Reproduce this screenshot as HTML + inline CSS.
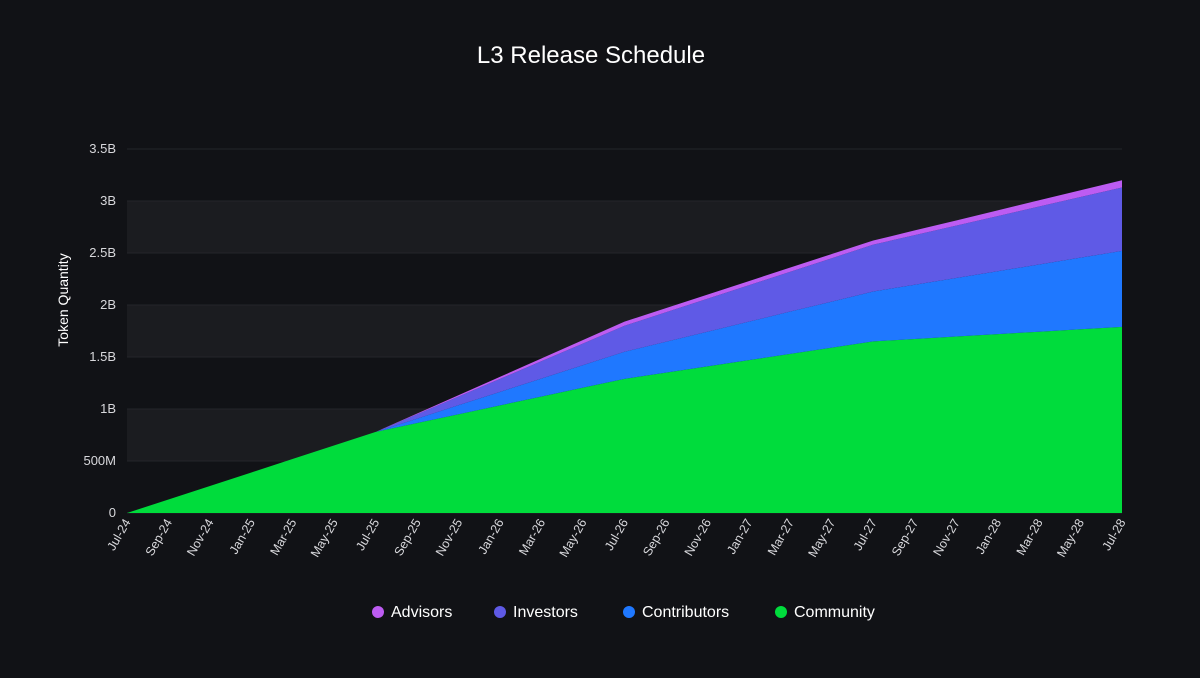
<!DOCTYPE html>
<html><head><meta charset="utf-8"><style>
body{margin:0;background:#111216;width:1200px;height:673px;overflow:hidden;font-family:"Liberation Sans",sans-serif}
</style></head><body>
<svg id="chart" width="1200" height="673">
<text x="591" y="63" fill="#fff" font-size="24" text-anchor="middle">L3 Release Schedule</text>
<text transform="translate(68,300) rotate(-90)" fill="#fff" font-size="14" text-anchor="middle">Token Quantity</text>
<g id="bands"></g><g id="areas"></g><g id="yt"></g><g id="xt"></g><g id="legend"></g>
</svg>
<script>
const categories=["Jul-24","Sep-24","Nov-24","Jan-25","Mar-25","May-25","Jul-25","Sep-25","Nov-25","Jan-26","Mar-26","May-26","Jul-26","Sep-26","Nov-26","Jan-27","Mar-27","May-27","Jul-27","Sep-27","Nov-27","Jan-28","Mar-28","May-28","Jul-28"];
const community=[0,0.13,0.26,0.39,0.52,0.65,0.78,0.865,0.95,1.035,1.12,1.205,1.29,1.35,1.41,1.47,1.53,1.59,1.65,1.673,1.697,1.72,1.743,1.767,1.79];
const contributors=[0,0,0,0,0,0,0,0.043,0.087,0.13,0.173,0.217,0.26,0.297,0.333,0.37,0.407,0.443,0.48,0.522,0.563,0.605,0.647,0.688,0.73];
const investors=[0,0,0,0,0,0,0,0.042,0.083,0.125,0.167,0.208,0.25,0.283,0.317,0.35,0.383,0.417,0.45,0.477,0.503,0.53,0.557,0.583,0.61];
const advisors=[0,0,0,0,0,0,0,0.007,0.013,0.02,0.027,0.033,0.04,0.04,0.04,0.04,0.04,0.04,0.04,0.045,0.05,0.055,0.06,0.065,0.07];
const yTicks=[0,0.5,1,1.5,2,2.5,3,3.5];
const yTickLabels=["0","500M","1B","1.5B","2B","2.5B","3B","3.5B"];
const X0=127,X1=1122,Y0=513,Y1=149,YMAX=3.5;
const xs=i=>X0+(X1-X0)*i/(categories.length-1);
const ys=v=>Y0-(Y0-Y1)*v/YMAX;
const NS="http://www.w3.org/2000/svg";
function mk(tag,attrs,parent){const e=document.createElementNS(NS,tag);for(const k in attrs)e.setAttribute(k,attrs[k]);document.getElementById(parent).appendChild(e);return e;}
for(let i=0;i<yTicks.length-1;i++){
  if(i%2==1){const r=mk('rect',{x:X0,y:ys(yTicks[i+1]),width:X1-X0,height:ys(yTicks[i])-ys(yTicks[i+1]),fill:'#1b1c20'},'bands');
  
  }
}
yTicks.forEach((v,i)=>{
  const l=mk('line',{x1:X0,x2:X1,y1:ys(v),y2:ys(v),stroke:'#24252a','stroke-width':1},'bands');
  
  
  const t=mk('text',{x:116,y:ys(v)+4,fill:'#d8d8dc','font-size':13,'text-anchor':'end'},'yt');
  t.textContent=yTickLabels[i];
  
  
});
const series=[["community",community,"#00dc3c"],["contributors",contributors,"#1f78ff"],["investors",investors,"#5f5ae6"],["advisors",advisors,"#bd5cf2"]];
let base=categories.map(()=>0);
series.forEach(([name,vals,col])=>{
  const top=base.map((b,i)=>b+vals[i]);
  let d="M"+top.map((v,i)=>xs(i)+","+ys(v)).join("L");
  for(let i=categories.length-1;i>=0;i--)d+="L"+xs(i)+","+ys(base[i]);
  const p=mk('path',{d:d+"Z",fill:col},'areas');
  
  
  base=top;
});
categories.forEach((c,i)=>{
  const t=mk('text',{transform:`translate(${xs(i)+4},${522}) rotate(-60)`,fill:'#d8d8dc','font-size':12.5,'text-anchor':'end'},'xt');
  t.textContent=c;
  
  
});
const legendItems=[["Advisors","#bd5cf2",378],["Investors","#5f5ae6",500],["Contributors","#1f78ff",629],["Community","#00dc3c",781]];
legendItems.forEach(([n,col,x])=>{
  const c=mk('circle',{cx:x,cy:612,r:6,fill:col},'legend');
  
  
  const t=mk('text',{x:x+13,y:617,fill:'#fff','font-size':16},'legend');
  t.textContent=n;
  
  
});
</script>
</body></html>
